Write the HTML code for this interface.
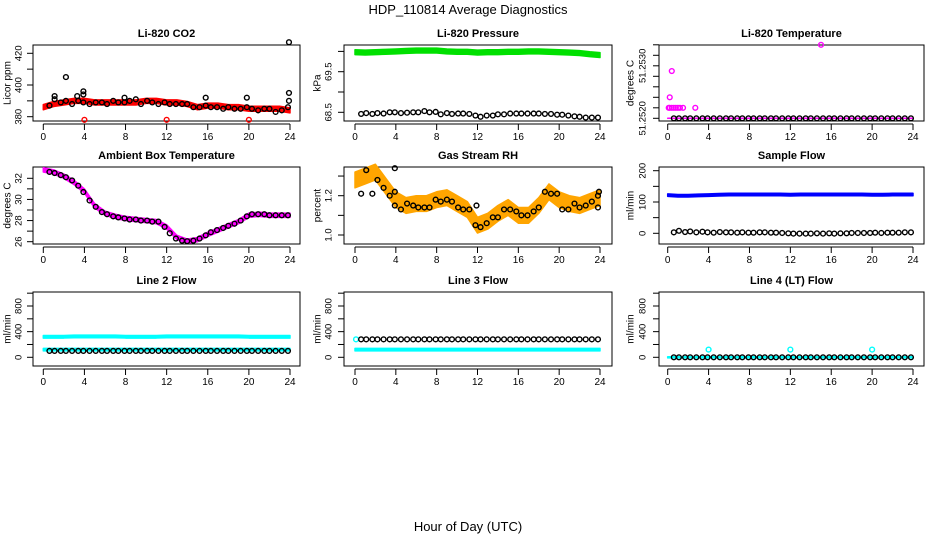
<!DOCTYPE html>
<html><head><meta charset="utf-8"><style>
html,body{margin:0;padding:0;background:#fff;}
svg{display:block;font-family:"Liberation Sans",Arial,sans-serif;}
</style></head><body>
<svg id="chart" width="936" height="540" viewBox="0 0 936 540">
<text x="468" y="14" text-anchor="middle" font-size="13">HDP_110814  Average Diagnostics</text>
<text x="468" y="531" text-anchor="middle" font-size="13">Hour of Day (UTC)</text>
</svg>
<script>
// shared hour positions of black (hourly-average) points
const hours = [0.6,1.1,1.7,2.2,2.8,3.4,3.9,4.5,5.1,5.7,6.2,6.8,7.3,7.9,8.4,9.0,9.5,10.1,10.6,11.2,11.8,12.3,12.9,13.5,14.0,14.6,15.2,15.8,16.3,16.9,17.5,18.0,18.6,19.2,19.8,20.3,20.9,21.5,22.0,22.6,23.2,23.8];
const bandHours = [0,1,2,3,4,5,6,7,8,9,10,11,12,13,14,15,16,17,18,19,20,21,22,23,24];
const xTicks = [0,4,8,12,16,20,24];

const co2Black = [387,391,389,390,388,390,389,388,389,389,388,390,389,389,390,391,388,390,389,388,389,388,388,388,388,386,386,387,386,386,385,386,385,385,386,385,384,385,385,383,384,386];
const co2Band = [386,388,389,390,390,389,389,389,389,389,390,390,389,389,388,386,387,387,386,386,385,385,385,385,384];
const co2OutX = [1.1,2.2,3.3,3.9,3.9,7.9,15.8,19.8,23.9,23.9,23.9];
const co2OutY = [393,405,393,396,394,392,392,392,427,395,390];
const co2RedOutX = [4,12,20];
const co2RedOutY = [378,378,378];

const presBlack = [68.46,68.48,68.46,68.48,68.47,68.5,68.5,68.48,68.49,68.5,68.5,68.53,68.5,68.51,68.45,68.48,68.46,68.47,68.47,68.46,68.42,68.39,68.42,68.42,68.45,68.45,68.47,68.47,68.47,68.47,68.47,68.47,68.46,68.46,68.44,68.44,68.42,68.4,68.39,68.37,68.37,68.37];
const presBand = [69.98,69.97,69.98,69.99,70.0,70.01,70.02,70.02,70.02,70.0,69.99,69.99,69.97,69.98,69.98,69.99,69.99,70.0,70.0,69.99,69.98,69.97,69.96,69.93,69.91];

const tempBlack = [51.2520,51.2520,51.2520,51.2520,51.2520,51.2520,51.2520,51.2520,51.2520,51.2520,51.2520,51.2520,51.2520,51.2520,51.2520,51.2520,51.2520,51.2520,51.2520,51.2520,51.2520,51.2520,51.2520,51.2520,51.2520,51.2520,51.2520,51.2520,51.2520,51.2520,51.2520,51.2520,51.2520,51.2520,51.2520,51.2520,51.2520,51.2520,51.2520,51.2520,51.2520,51.2520];
const tempMagX = [0.1,0.2,0.4,0.6,0.8,1.0,1.2,1.5,2.7,0.2,0.4,15.0];
const tempMagY = [51.2522,51.2522,51.2522,51.2522,51.2522,51.2522,51.2522,51.2522,51.2522,51.2524,51.2529,51.2534];

const ambBlack = [32.6,32.5,32.3,32.1,31.8,31.3,30.7,29.9,29.3,28.8,28.6,28.4,28.3,28.2,28.1,28.1,28.0,28.0,27.9,27.9,27.4,26.8,26.3,26.1,26.05,26.1,26.3,26.6,26.9,27.1,27.3,27.5,27.7,28.0,28.4,28.6,28.6,28.6,28.5,28.5,28.5,28.5];
const ambBand = [32.8,32.6,32.2,31.6,30.8,29.4,28.7,28.4,28.2,28.1,28.0,27.9,27.4,26.4,26.05,26.2,26.7,27.1,27.5,27.9,28.5,28.6,28.5,28.5,28.5];

const rhBlack = [1.21,1.33,1.21,1.28,1.24,1.20,1.15,1.13,1.16,1.15,1.14,1.14,1.14,1.18,1.17,1.18,1.17,1.14,1.13,1.13,1.05,1.04,1.06,1.09,1.09,1.13,1.13,1.12,1.10,1.10,1.12,1.14,1.22,1.21,1.21,1.13,1.13,1.16,1.14,1.15,1.17,1.20];
const rhBand = [1.28,1.30,1.32,1.25,1.18,1.15,1.16,1.16,1.18,1.19,1.16,1.13,1.05,1.07,1.11,1.14,1.10,1.10,1.15,1.22,1.18,1.16,1.15,1.17,1.19];
const rhOutX = [3.9,3.9,11.9,23.8,23.9];
const rhOutY = [1.34,1.22,1.15,1.14,1.22];

const sfBlack = [3,8,4,6,3,5,3,2,4,3,3,2,3,2,2,3,3,2,2,1,0,-1,-1,-1,-1,0,-1,0,-1,0,0,1,1,1,1,2,1,2,2,2,3,3];
const sfBand = [122,120,120,121,122,123,124,124,124,124,124,124,123,124,124,124,124,124,124,124,123,123,124,124,124];

const l2Black = [100,100,100,100,100,100,100,100,100,100,100,100,100,100,100,100,100,100,100,100,100,100,100,100,100,100,100,100,100,100,100,100,100,100,100,100,100,100,100,100,100,100];
const l2BandA = [320,320,320,325,325,325,325,325,320,320,320,320,325,325,325,325,325,325,325,325,320,320,320,320,320];
const l2BandB = [120,120,120,120,120,120,120,120,120,120,120,120,120,120,120,120,120,120,120,120,120,120,120,120,120];

const l3Black = [280,280,280,280,280,280,280,280,280,280,280,280,280,280,280,280,280,280,280,280,280,280,280,280,280,280,280,280,280,280,280,280,280,280,280,280,280,280,280,280,280,280];
const l3Band = [120,120,120,120,120,120,120,120,120,120,120,120,120,120,120,120,120,120,120,120,120,120,120,120,120];
const l3OutX = [0.1];
const l3OutY = [280];

const l4Black = [0,0,0,0,0,0,0,0,0,0,0,0,0,0,0,0,0,0,0,0,0,0,0,0,0,0,0,0,0,0,0,0,0,0,0,0,0,0,0,0,0,0];
const l4Band = [0,0,0,0,0,0,0,0,0,0,0,0,0,0,0,0,0,0,0,0,0,0,0,0,0];
const l4OutX = [4,12,20];
const l4OutY = [120,120,120];

const NS = "http://www.w3.org/2000/svg";
const svg = document.getElementById('chart');
function mk(tag, attrs, parent){const e=document.createElementNS(NS,tag);for(const k in attrs)e.setAttribute(k,attrs[k]);(parent||svg).appendChild(e);return e;}

const cols = [{l:33,r:300,x0:43.3,x24:290,yl:19,yt:8},{l:344,r:612,x0:355,x24:600,yl:329,yt:318},{l:659,r:924,x0:667.7,x24:913,yl:643,yt:631}];
const rows = [{t:45,b:121},{t:167,b:244},{t:292,b:366}];

function panel(name, title, ytitle, ci, ri, ya, yb, pa, pb, yTicksAll, yLabels){
  const c=cols[ci], r=rows[ri];
  const g=mk('g',{});
  
  
  const sx=h=>c.x0+(h/24)*(c.x24-c.x0);
  const sy=v=>pa+(v-ya)*(pb-pa)/(yb-ya);
  const box=mk('rect',{x:c.l,y:r.t,width:c.r-c.l,height:r.b-r.t,fill:'none',stroke:'#000','stroke-width':1},g);
  
  
  const t=mk('text',{x:(c.l+c.r)/2,y:r.t-8,'text-anchor':'middle','font-size':11,'font-weight':'bold'},g);
  t.textContent=title;
  
  
  const yt=mk('text',{x:c.yt,y:(r.t+r.b)/2,'text-anchor':'middle','font-size':10,transform:`rotate(-90 ${c.yt} ${(r.t+r.b)/2})`,'dominant-baseline':'central'},g);
  yt.textContent=ytitle;
  
  
  const xa=mk('g',{},g);
  
  
  mk('line',{x1:sx(0),x2:sx(24),y1:r.b+3,y2:r.b+3,stroke:'#000'},xa);
  xTicks.forEach(v=>{
    mk('line',{x1:sx(v),x2:sx(v),y1:r.b+3,y2:r.b+9,stroke:'#000'},xa);
    const tl=mk('text',{x:sx(v),y:r.b+19,'text-anchor':'middle','font-size':10},xa);
    tl.textContent=v;
    
    
  });
  const ya_=mk('g',{},g);
  
  
  yTicksAll.forEach(v=>{
    mk('line',{x1:c.l-6,x2:c.l,y1:sy(v),y2:sy(v),stroke:'#000'},ya_);
  });
  yLabels.forEach(v=>{
    const y=sy(v);
    const tl=mk('text',{x:c.yl,y:y,'text-anchor':'middle','font-size':9.5,'dominant-baseline':'central',transform:`rotate(-90 ${c.yl} ${y})`},ya_);
    tl.textContent=v;
    
    
  });
  return {g,sx,sy};
}
function band(p, xs, ys, hw, color, name){
  const top=xs.map((h,i)=>`${p.sx(h)},${p.sy(ys[i]+hw)}`);
  const bot=xs.map((h,i)=>`${p.sx(h)},${p.sy(ys[i]-hw)}`).reverse();
  const e=mk('polygon',{points:top.concat(bot).join(' '),fill:color,stroke:color,'stroke-width':1.5,'stroke-linejoin':'round'},p.g);
  
  
}
function pts(p, xs, ys, color, name, r){
  const g=mk('g',{},p.g);
  
  
  xs.forEach((h,i)=>{
    const c=mk('circle',{cx:p.sx(h),cy:p.sy(ys[i]),r:r||2.4,fill:'none',stroke:color,'stroke-width':1.4},g);
    
    
  });
}

// Li-820 CO2
let p=panel('co2','Li-820 CO2','Licor ppm',0,0,380,420,116.7,53.3,[380,390,400,410,420],['380','400','420']);
band(p,bandHours,co2Band,1.6,'#ff0000','co2-band');
pts(p,co2RedOutX,co2RedOutY,'#ff0000','co2-red-outliers');
pts(p,hours,co2Black,'#000','co2-averages');
pts(p,co2OutX,co2OutY,'#000','co2-outliers');

// Pressure
p=panel('pressure','Li-820 Pressure','kPa',1,0,68.5,69.5,112.3,71.7,[68.5,69.0,69.5,70.0],['68.5','69.5']);
band(p,bandHours,presBand,0.06,'#00e000','pressure-band');
pts(p,hours,presBlack,'#000','pressure-averages');

// Temperature
p=panel('li820-temp','Li-820 Temperature','degrees C',2,0,51.2520,51.2530,118.3,65.8,[51.2520,51.2522,51.2524,51.2526,51.2528,51.2530,51.2532,51.2534],['51.2520','51.2530']);
band(p,bandHours,l4Band.map(()=>51.2520),0,'#ff00ff','temp-band');
pts(p,tempMagX,tempMagY,'#ff00ff','temp-magenta-points');
pts(p,hours,tempBlack,'#000','temp-averages');

// Ambient
p=panel('ambient','Ambient Box Temperature','degrees C',0,1,26,32,241.7,178.3,[26,27,28,29,30,31,32],['26','28','30','32']);
band(p,bandHours,ambBand,0.2,'#ff00ff','ambient-band');
pts(p,hours,ambBlack,'#000','ambient-averages');

// RH
p=panel('rh','Gas Stream RH','percent',1,1,1.0,1.2,235,195.7,[1.0,1.1,1.2,1.3],['1.0','1.2']);
band(p,bandHours,rhBand,0.04,'#ffa500','rh-band');
pts(p,hours,rhBlack,'#000','rh-averages');
pts(p,rhOutX,rhOutY,'#000','rh-outliers');

// Sample flow
p=panel('sample-flow','Sample Flow','ml/min',2,1,0,200,233.3,170.7,[0,50,100,150,200],['0','100','200']);
band(p,bandHours,sfBand,4,'#0000ff','sample-flow-band');
pts(p,hours,sfBlack,'#000','sample-flow-averages');

// Line 2
p=panel('line2','Line 2 Flow','ml/min',0,2,0,800,357.3,306,[0,200,400,600,800,1000],['0','400','800']);
band(p,bandHours,l2BandA,20,'#00ffff','line2-band-high');
band(p,bandHours,l2BandB,20,'#00ffff','line2-band-low');
pts(p,hours,l2Black,'#000','line2-averages');

// Line 3
p=panel('line3','Line 3 Flow','ml/min',1,2,0,800,357.3,306,[0,200,400,600,800,1000],['0','400','800']);
band(p,bandHours,l3Band,20,'#00ffff','line3-band');
pts(p,l3OutX,l3OutY,'#00ffff','line3-cyan-outliers');
pts(p,hours,l3Black,'#000','line3-averages');

// Line 4
p=panel('line4','Line 4 (LT) Flow','ml/min',2,2,0,800,357.3,306,[0,200,400,600,800,1000],['0','400','800']);
band(p,bandHours,l4Band,8,'#00ffff','line4-band');
pts(p,l4OutX,l4OutY,'#00ffff','line4-cyan-outliers');
pts(p,hours,l4Black,'#000','line4-averages');
</script>
</body></html>
